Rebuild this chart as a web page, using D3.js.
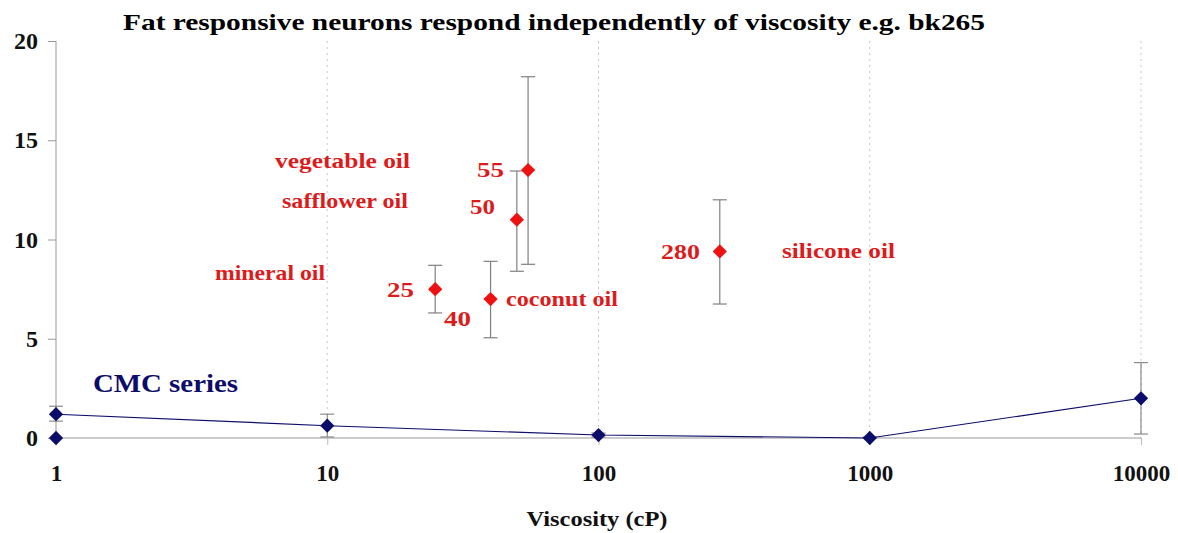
<!DOCTYPE html>
<html>
<head>
<meta charset="utf-8">
<script src="https://cdn.jsdelivr.net/npm/d3@7"></script>
<style>
  body { margin: 0; background: #fff; }
  text { font-family: "Liberation Serif", "DejaVu Serif", serif; font-weight: bold; }
</style>
</head>
<body>
<svg id="chart" width="1178" height="533"></svg>
<script>
// oil series (red)
const oilVisc = [25, 40, 50, 55, 280];
const oilResp = [7.5, 7.0, 11.0, 13.5, 9.4];
const oilHi = [8.7, 8.9, 13.45, 18.2, 12.0];
const oilLo = [6.3, 5.05, 8.4, 8.75, 6.75];
const oilNumLabels = ["25", "40", "50", "55", "280"];

// CMC series (navy)
const cmcVisc = [1, 10, 100, 1000, 10000];
const cmcResp = [1.2, 0.62, 0.15, 0.0, 2.0];
const cmcHi = [1.6, 1.2, 0.25, 0.05, 3.8];
const cmcLo = [0.85, 0.05, 0.05, 0.0, 0.2];
const baseVisc = [1];
const baseResp = [0];

const oilNames = ["vegetable oil", "safflower oil", "mineral oil", "coconut oil", "silicone oil"];
const xTicks = [1, 10, 100, 1000, 10000];
const yTicks = [0, 5, 10, 15, 20];

const svg = d3.select("#chart");
const x = d3.scaleLog().domain([1, 10000]).range([56, 1141]);
const y = d3.scaleLinear().domain([0, 20]).range([438, 41]);

const red = "#ee1111";
const redText = "#dc1c1c";
const navy = "#0c0c6a";

// title
svg.append("text")
  .attr("x", 554).attr("y", 30)
  .attr("text-anchor", "middle")
  .style("font-size", "24px")
  .attr("textLength", 862).attr("lengthAdjust", "spacingAndGlyphs")
  .text("Fat responsive neurons respond independently of viscosity e.g. bk265");

// grid lines
svg.append("g").selectAll("line")
  .data(xTicks.slice(1))
  .enter().append("line")
  .attr("x1", d => x(d)).attr("x2", d => x(d))
  .attr("y1", y(20)).attr("y2", y(0))
  .attr("stroke", "#c8c8c8").attr("stroke-dasharray", "2,4");

// y axis
const yAxis = svg.append("g")
  .attr("transform", "translate(" + x(1) + ",0)")
  .call(d3.axisLeft(y).tickValues(yTicks).tickSize(8).tickPadding(10));
yAxis.select(".domain").attr("stroke", "#999").attr("d", "M0," + y(20) + "V" + y(0));
yAxis.selectAll(".tick line").attr("stroke", "#999");
yAxis.selectAll("text").style("font-size", "24px").attr("fill", "#111").style("font-family", "Liberation Serif").style("font-weight", "bold");

// x axis
const xAxis = svg.append("g")
  .attr("transform", "translate(0," + y(0) + ")")
  .call(d3.axisBottom(x).tickValues(xTicks).tickFormat(d3.format("d")).tickSize(7).tickPadding(20));
xAxis.select(".domain").attr("stroke", "#999").attr("d", "M" + x(1) + ",0H" + x(10000));
xAxis.selectAll(".tick line").attr("stroke", "#bbb");
xAxis.selectAll("text").style("font-size", "23px").attr("fill", "#111").style("font-family", "Liberation Serif").style("font-weight", "bold");

svg.append("text")
  .attr("x", 597).attr("y", 526)
  .attr("text-anchor", "middle")
  .style("font-size", "21px").attr("fill", "#111")
  .attr("textLength", 141).attr("lengthAdjust", "spacingAndGlyphs")
  .text("Viscosity (cP)");

// error bars helper
function errorBars(vis, hi, lo, color) {
  const g = svg.append("g").attr("stroke", color).attr("stroke-width", 1.2);
  vis.forEach((v, i) => {
    g.append("line").attr("x1", x(v)).attr("x2", x(v)).attr("y1", y(hi[i])).attr("y2", y(lo[i]));
    g.append("line").attr("x1", x(v) - 7).attr("x2", x(v) + 7).attr("y1", y(hi[i])).attr("y2", y(hi[i]));
    g.append("line").attr("x1", x(v) - 7).attr("x2", x(v) + 7).attr("y1", y(lo[i])).attr("y2", y(lo[i]));
  });
}

errorBars(cmcVisc, cmcHi, cmcLo, "#8a8a8a");
errorBars(oilVisc, oilHi, oilLo, "#808080");

const diamond = d3.symbol().type(d3.symbolDiamond2).size(130);

// CMC line
svg.append("path")
  .datum(cmcVisc.map((v, i) => [v, cmcResp[i]]))
  .attr("fill", "none").attr("stroke", navy).attr("stroke-width", 1.1)
  .attr("d", d3.line().x(d => x(d[0])).y(d => y(d[1])));

svg.append("g").selectAll("path")
  .data(cmcVisc.map((v, i) => [v, cmcResp[i]]).concat(baseVisc.map((v, i) => [v, baseResp[i]])))
  .enter().append("path")
  .attr("d", diamond)
  .attr("transform", d => "translate(" + x(d[0]) + "," + y(d[1]) + ")")
  .attr("fill", navy);

svg.append("text")
  .attr("x", 93).attr("y", 392)
  .style("font-size", "25px").attr("fill", navy)
  .attr("textLength", 145).attr("lengthAdjust", "spacingAndGlyphs")
  .text("CMC series");

// oil points
svg.append("g").selectAll("path")
  .data(oilVisc.map((v, i) => [v, oilResp[i]]))
  .enter().append("path")
  .attr("d", diamond)
  .attr("transform", d => "translate(" + x(d[0]) + "," + y(d[1]) + ")")
  .attr("fill", red);

// number labels next to points: [x, baseline, width]
const numPos = [[387, 297, 27], [444, 326, 27], [470, 214, 25], [477, 177, 27], [661, 259, 39]];
svg.append("g").selectAll("text")
  .data(oilNumLabels)
  .enter().append("text")
  .attr("x", (d, i) => numPos[i][0]).attr("y", (d, i) => numPos[i][1])
  .attr("textLength", (d, i) => numPos[i][2]).attr("lengthAdjust", "spacingAndGlyphs")
  .style("font-size", "22px").attr("fill", redText)
  .text(d => d);

const namePos = [[275, 168, 135], [282, 208, 126], [215, 280, 110], [506, 306, 112], [782, 258, 113]];
svg.append("g").selectAll("text")
  .data(oilNames)
  .enter().append("text")
  .attr("x", (d, i) => namePos[i][0]).attr("y", (d, i) => namePos[i][1])
  .attr("textLength", (d, i) => namePos[i][2]).attr("lengthAdjust", "spacingAndGlyphs")
  .style("font-size", "21px").attr("fill", redText)
  .text(d => d);
</script>
</body>
</html>
